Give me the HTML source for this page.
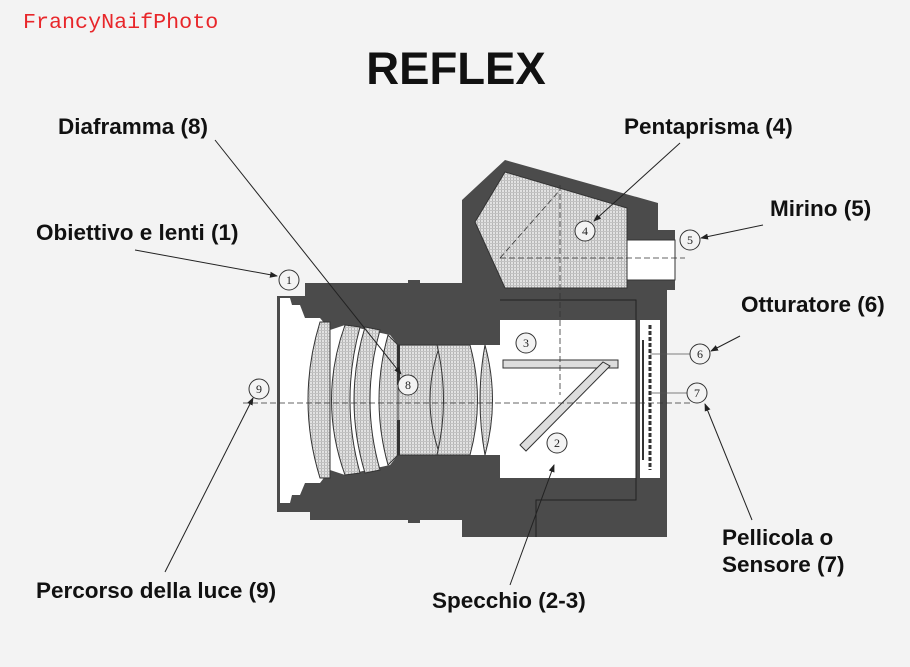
<!DOCTYPE html>
<html><head><meta charset="utf-8"><style>
body{margin:0;background:#f3f3f3;}
svg{display:block}
.l{font-family:"Liberation Sans",sans-serif;font-weight:bold;font-size:22.5px;fill:#111}
.n{font-family:"Liberation Serif",serif;font-size:12px;fill:#222;text-anchor:middle}
</style></head><body>
<svg width="910" height="667" viewBox="0 0 910 667" xmlns="http://www.w3.org/2000/svg">
<defs>
<pattern id="h" width="3" height="3" patternUnits="userSpaceOnUse"><rect width="3" height="3" fill="#e2e2e2"/><rect width="1" height="3" fill="#b5b5b5"/><rect width="3" height="1" fill="#c2c2c2"/></pattern>
<marker id="a" markerWidth="8" markerHeight="8" refX="7" refY="4" orient="auto"><path d="M0,1 L8,4 L0,7 z" fill="#222"/></marker>
</defs>
<rect width="910" height="667" fill="#f3f3f3"/>
<text x="23" y="28" font-family="Liberation Mono,monospace" font-size="21.7" fill="#e8262a">FrancyNaifPhoto</text>
<text x="456" y="84" text-anchor="middle" font-family="Liberation Sans,sans-serif" font-weight="bold" font-size="45.5" fill="#111">REFLEX</text>

<path fill="#4b4b4b" d="M277,296 L305,296 L305,283 L408,283 L408,280 L420,280 L420,283 L462,283 L462,200 L505,160 L658,203 L658,230 L675,230 L675,290 L667,290 L667,537 L462,537 L462,520 L420,520 L420,523 L408,523 L408,520 L310,520 L310,512 L277,512 Z"/>
<path fill="#fff" d="M280,298 L290,298 L292,305 L300,305 L305,318 L320,318 L330,330 L345,325 L390,335 L398,345 L500,345 L500,320 L640,320 L640,478 L500,478 L500,455 L398,455 L390,465 L345,475 L330,470 L320,483 L305,483 L300,495 L292,495 L290,503 L280,503 Z"/>
<rect x="500" y="320" width="140" height="158" fill="#fff"/>
<rect x="640" y="320" width="20" height="158" fill="#fff"/>
<rect x="640" y="303" width="7" height="17" fill="#4b4b4b"/>
<rect x="640" y="478" width="7" height="12" fill="#4b4b4b"/>
<rect x="636" y="290" width="4" height="210" fill="#4b4b4b"/>
<path d="M500,300 L636,300 L636,500 L536,500 L536,537" fill="none" stroke="#222" stroke-width="1"/>
<path fill="url(#h)" stroke="#333" d="M475,222 L505,172 L627,208 L627,288 L505,288 Z"/>
<rect x="627" y="240" width="48" height="40" fill="#fff" stroke="#333"/>
<g fill="url(#h)" stroke="#333" stroke-width="1">
<path d="M320,322 Q296,400 320,478 L330,478 L330,322 Z"/>
<path d="M345,325 Q318,400 345,475 L360,473 Q340,400 360,327 Z"/>
<path d="M365,327 Q343,400 365,473 L380,470 Q360,400 380,330 Z"/>
<path d="M388,335 Q370,400 388,465 L398,455 L398,345 Z"/>
<path d="M398,345 L440,345 Q440,400 440,455 L398,455 Z"/>
<path d="M440,345 Q420,400 440,455 L465,455 L465,345 Z"/>
<path d="M437,345 Q450,400 437,455 L470,455 Q485,400 470,345 Z"/>
<path d="M485,345 Q500,400 485,455 Q475,400 485,345 Z"/>
</g>
<rect x="397" y="345" width="3" height="40" fill="#333"/>
<rect x="397" y="420" width="3" height="35" fill="#333"/>
<rect x="503" y="360" width="115" height="8" fill="#ddd" stroke="#333"/>
<path d="M520,445 L603,362 L610,366 L526,451 Z" fill="#ddd" stroke="#333"/>
<line x1="650" y1="325" x2="650" y2="470" stroke="#333" stroke-width="3" stroke-dasharray="4,2"/>
<line x1="643" y1="340" x2="643" y2="460" stroke="#333" stroke-width="2"/>
<g stroke="#333" stroke-width="0.8" stroke-dasharray="6,3" fill="none">
<line x1="243" y1="403" x2="690" y2="403"/>
<line x1="560" y1="185" x2="560" y2="395"/>
<line x1="500" y1="258" x2="560" y2="190"/>
<line x1="500" y1="258" x2="685" y2="258"/>
</g>
<line x1="650" y1="354" x2="690" y2="354" stroke="#555" stroke-width="0.8"/>
<line x1="650" y1="393" x2="687" y2="393" stroke="#555" stroke-width="0.8"/>
<g fill="#f3f3f3" stroke="#333" stroke-width="1">
<circle cx="289" cy="280" r="10"/><circle cx="259" cy="389" r="10"/>
<circle cx="408" cy="385" r="10"/><circle cx="526" cy="343" r="10"/>
<circle cx="585" cy="231" r="10"/><circle cx="557" cy="443" r="10"/>
<circle cx="690" cy="240" r="10"/><circle cx="700" cy="354" r="10"/>
<circle cx="697" cy="393" r="10"/>
</g>
<g class="n">
<text x="289" y="284">1</text><text x="259" y="393">9</text><text x="408" y="389">8</text>
<text x="526" y="347">3</text><text x="585" y="235">4</text><text x="557" y="447">2</text>
<text x="690" y="244">5</text><text x="700" y="358">6</text><text x="697" y="397">7</text>
</g>
<g stroke="#222" stroke-width="1" marker-end="url(#a)">
<line x1="215" y1="140" x2="401" y2="374"/>
<line x1="135" y1="250" x2="277" y2="276"/>
<line x1="165" y1="572" x2="253" y2="398"/>
<line x1="510" y1="585" x2="554" y2="465"/>
<line x1="680" y1="143" x2="594" y2="221"/>
<line x1="763" y1="225" x2="701" y2="238"/>
<line x1="740" y1="336" x2="711" y2="351"/>
<line x1="752" y1="520" x2="705" y2="404"/>
</g>
<text class="l" x="58" y="134">Diaframma (8)</text>
<text class="l" x="624" y="134">Pentaprisma (4)</text>
<text class="l" x="770" y="216">Mirino (5)</text>
<text class="l" x="36" y="240">Obiettivo e lenti (1)</text>
<text class="l" x="741" y="312">Otturatore (6)</text>
<text class="l" x="722" y="545">Pellicola o</text>
<text class="l" x="722" y="572">Sensore (7)</text>
<text class="l" x="36" y="598">Percorso della luce (9)</text>
<text class="l" x="432" y="608">Specchio (2-3)</text>
</svg>
</body></html>
